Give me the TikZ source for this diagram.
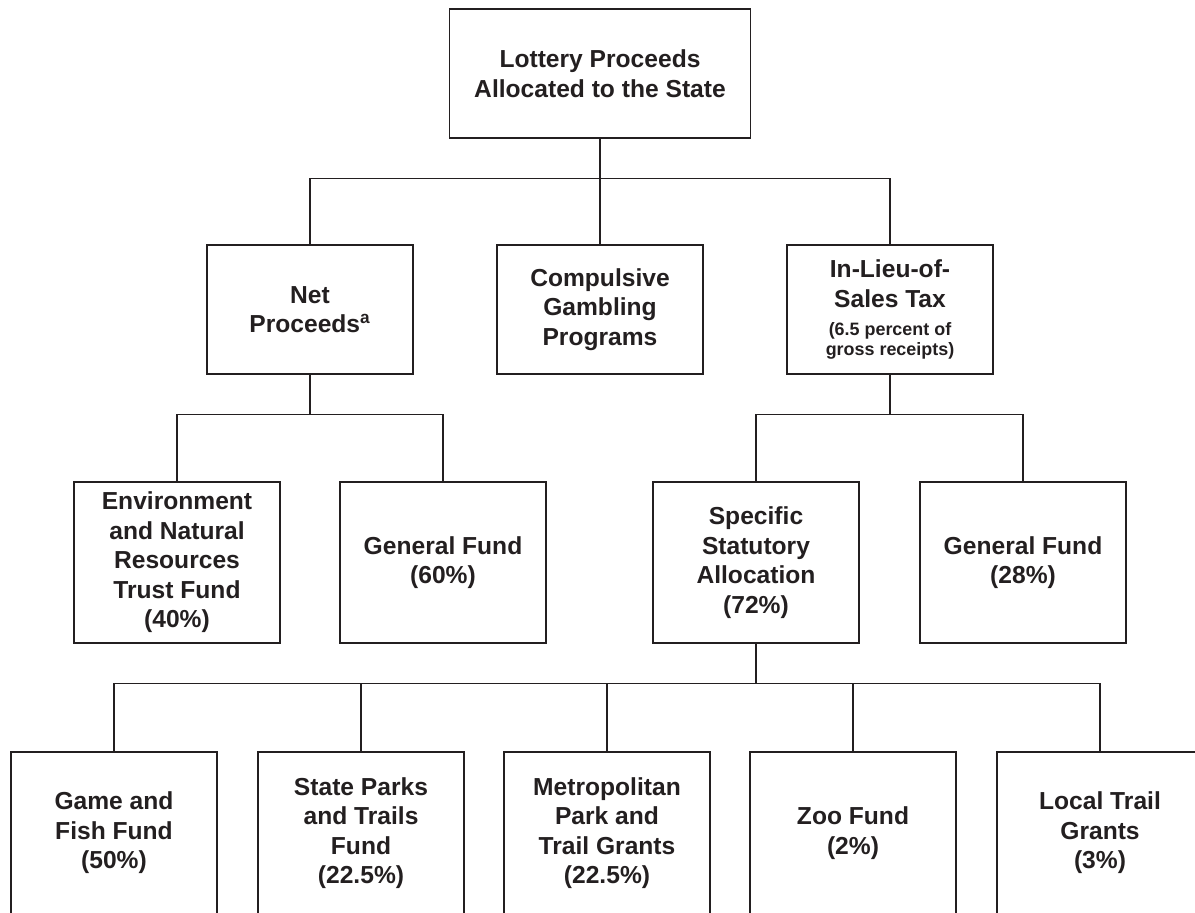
\documentclass[tikz,border=0pt]{standalone}
\usepackage{fontspec}
\setmainfont{Liberation Sans}
\usepackage{tikz}
\usetikzlibrary{positioning}
\usepackage{xcolor}
\definecolor{ink}{HTML}{231F20}
\newcommand{\smalltxt}{\fontsize{10.2}{11.5}\selectfont}

\begin{document}
\begin{tikzpicture}[every node/.style={draw=ink, text=ink, line width=0.8pt, align=center, inner sep=2pt,
        font=\bfseries\fontsize{14}{16.8}\selectfont, minimum width=4.12cm},
        line width=0.8pt, ink]
            \useasboundingbox (0, 0) rectangle (23.9, -18.24);

            \node[minimum width=6.02cm, minimum height=2.58cm] (state) at (12, -1.47) {Lottery Proceeds\\Allocated to the State};

            \node[minimum height=2.58cm] (net) at (6.2, -6.19) {Net\\Proceeds\textsuperscript{a}};
            \node[minimum height=2.58cm] (gambling) at (12, -6.19) {Compulsive\\Gambling\\Programs};
            \node[minimum height=2.58cm] (tax) at (17.8, -6.19) {In-Lieu-of-\\Sales Tax\\[-1pt]{\smalltxt (6.5 percent of}\\[-5.5pt]{\smalltxt gross receipts)}};
            \draw (state) -- (gambling);
            \draw (state.south) -- ++(0, -0.8) -| (net.north) (state.south) -- ++(0, -0.8) -| (tax.north);

            \node[minimum height=3.22cm] (trust) at (3.54, -11.25) {Environment\\and Natural\\Resources\\Trust Fund\\(40\%)};
            \node[minimum height=3.22cm] (general60) at (8.86, -11.25) {General Fund\\(60\%)};
            \draw (net.south) -- ++(0, -0.8) -| (trust.north) (net.south) -- ++(0, -0.8) -| (general60.north);

            \node[minimum height=3.22cm] (statutory) at (15.12, -11.25) {Specific\\Statutory\\Allocation\\(72\%)};
            \node[minimum height=3.22cm] (general28) at (20.46, -11.25) {General Fund\\(28\%)};
            \draw (tax.south) -- ++(0, -0.8) -| (statutory.north) (tax.south) -- ++(0, -0.8) -| (general28.north);

            \node[minimum height=3.24cm] (gamefish) at (2.28, -16.66) {Game and\\Fish Fund\\(50\%)};
            \node[minimum height=3.24cm] (parks) at (7.22, -16.66) {State Parks\\and Trails\\Fund\\(22.5\%)};
            \node[minimum height=3.24cm] (metro) at (12.14, -16.66) {Metropolitan\\Park and\\Trail Grants\\(22.5\%)};
            \node[minimum height=3.24cm] (zoo) at (17.06, -16.66) {Zoo Fund\\(2\%)};
            \node[minimum height=3.24cm] (localtrail) at (22, -16.66) {Local Trail\\Grants\\(3\%)};
            \foreach \fund in {gamefish,parks,metro,zoo,localtrail}
                \draw (statutory.south) -- ++(0, -0.8) -| (\fund.north);
        \end{tikzpicture}
\end{document}
